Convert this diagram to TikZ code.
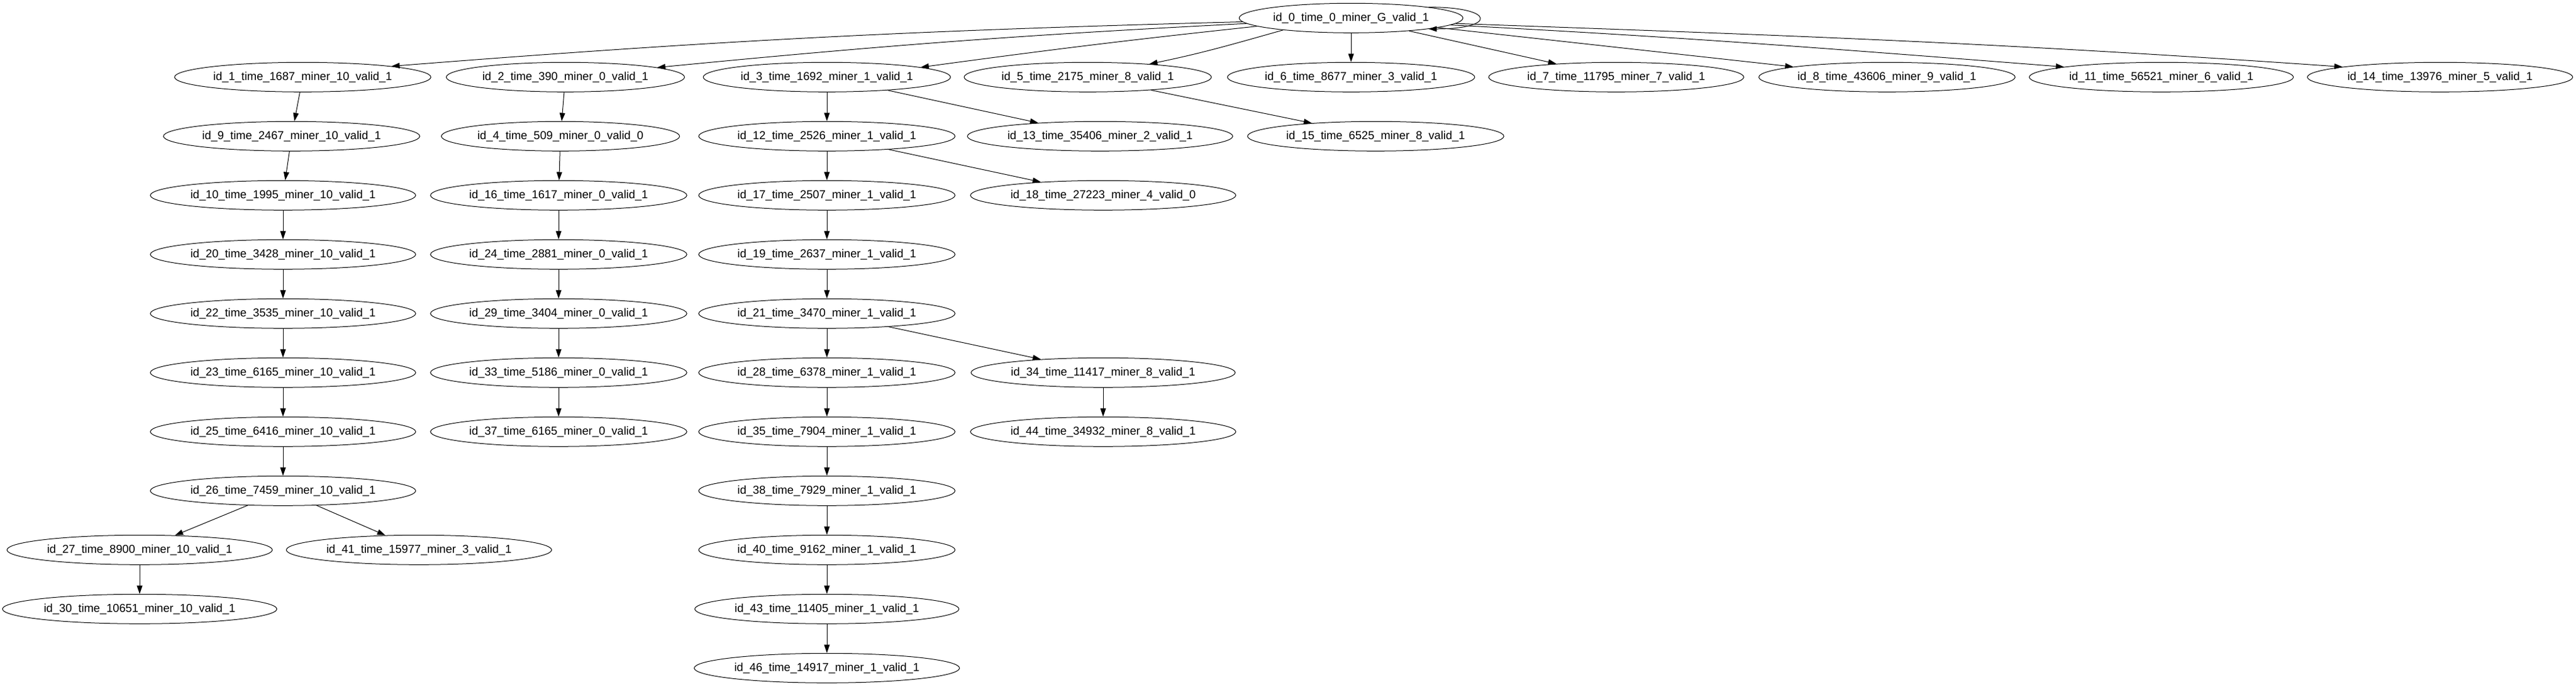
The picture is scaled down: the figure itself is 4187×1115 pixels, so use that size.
\documentclass[tikz,border=0pt]{standalone}
\usepackage{fontspec}
\setmainfont{Liberation Sans}
\usetikzlibrary{shapes.geometric,arrows.meta}

\begin{document}
\begin{tikzpicture}[x=0.75pt,y=-0.75pt,
  blk/.style={draw, ellipse, line width=0.75pt, inner xsep=1.5pt, inner ysep=0pt,
    minimum height=36pt, font=\fontsize{14}{16}\selectfont},
  ed/.style={line width=0.75pt, -{Triangle[length=10pt,width=6.7pt]}}]
\useasboundingbox (0,0) rectangle (4187,1115);
% root
\node[blk] (n0) at (2196,29.3) {id\_0\_time\_0\_miner\_G\_valid\_1};
% rank 1
\node[blk] (n1) at (492,125.3) {id\_1\_time\_1687\_miner\_10\_valid\_1};
\node[blk] (n2) at (919,125.3) {id\_2\_time\_390\_miner\_0\_valid\_1};
\node[blk] (n3) at (1344,125.3) {id\_3\_time\_1692\_miner\_1\_valid\_1};
\node[blk] (n5) at (1768,125.3) {id\_5\_time\_2175\_miner\_8\_valid\_1};
\node[blk] (n6) at (2196,125.3) {id\_6\_time\_8677\_miner\_3\_valid\_1};
\node[blk] (n7) at (2627,125.3) {id\_7\_time\_11795\_miner\_7\_valid\_1};
\node[blk] (n8) at (3067,125.3) {id\_8\_time\_43606\_miner\_9\_valid\_1};
\node[blk] (n11) at (3513,125.3) {id\_11\_time\_56521\_miner\_6\_valid\_1};
\node[blk] (n14) at (3966,125.3) {id\_14\_time\_13976\_miner\_5\_valid\_1};
% rank 2
\node[blk] (n9) at (474,221.3) {id\_9\_time\_2467\_miner\_10\_valid\_1};
\node[blk] (n4) at (911,221.3) {id\_4\_time\_509\_miner\_0\_valid\_0};
\node[blk] (n12) at (1344,221.3) {id\_12\_time\_2526\_miner\_1\_valid\_1};
\node[blk] (n13) at (1788,221.3) {id\_13\_time\_35406\_miner\_2\_valid\_1};
\node[blk] (n15) at (2236,221.3) {id\_15\_time\_6525\_miner\_8\_valid\_1};
% rank 3
\node[blk] (n10) at (460,317.3) {id\_10\_time\_1995\_miner\_10\_valid\_1};
\node[blk] (n16) at (908,317.3) {id\_16\_time\_1617\_miner\_0\_valid\_1};
\node[blk] (n17) at (1344,317.3) {id\_17\_time\_2507\_miner\_1\_valid\_1};
\node[blk] (n18) at (1793,317.3) {id\_18\_time\_27223\_miner\_4\_valid\_0};
% rank 4
\node[blk] (n20) at (460,413.3) {id\_20\_time\_3428\_miner\_10\_valid\_1};
\node[blk] (n24) at (908,413.3) {id\_24\_time\_2881\_miner\_0\_valid\_1};
\node[blk] (n19) at (1344,413.3) {id\_19\_time\_2637\_miner\_1\_valid\_1};
% rank 5
\node[blk] (n22) at (460,509.3) {id\_22\_time\_3535\_miner\_10\_valid\_1};
\node[blk] (n29) at (908,509.3) {id\_29\_time\_3404\_miner\_0\_valid\_1};
\node[blk] (n21) at (1344,509.3) {id\_21\_time\_3470\_miner\_1\_valid\_1};
% rank 6
\node[blk] (n23) at (460,605.3) {id\_23\_time\_6165\_miner\_10\_valid\_1};
\node[blk] (n33) at (908,605.3) {id\_33\_time\_5186\_miner\_0\_valid\_1};
\node[blk] (n28) at (1344,605.3) {id\_28\_time\_6378\_miner\_1\_valid\_1};
\node[blk] (n34) at (1793,605.3) {id\_34\_time\_11417\_miner\_8\_valid\_1};
% rank 7
\node[blk] (n25) at (460,701.3) {id\_25\_time\_6416\_miner\_10\_valid\_1};
\node[blk] (n37) at (908,701.3) {id\_37\_time\_6165\_miner\_0\_valid\_1};
\node[blk] (n35) at (1344,701.3) {id\_35\_time\_7904\_miner\_1\_valid\_1};
\node[blk] (n44) at (1793,701.3) {id\_44\_time\_34932\_miner\_8\_valid\_1};
% rank 8
\node[blk] (n26) at (460,797.3) {id\_26\_time\_7459\_miner\_10\_valid\_1};
\node[blk] (n38) at (1344,797.3) {id\_38\_time\_7929\_miner\_1\_valid\_1};
% rank 9
\node[blk] (n27) at (227,893.3) {id\_27\_time\_8900\_miner\_10\_valid\_1};
\node[blk] (n41) at (681,893.3) {id\_41\_time\_15977\_miner\_3\_valid\_1};
\node[blk] (n40) at (1344,893.3) {id\_40\_time\_9162\_miner\_1\_valid\_1};
% rank 10
\node[blk] (n30) at (227,989.3) {id\_30\_time\_10651\_miner\_10\_valid\_1};
\node[blk] (n43) at (1344,989.3) {id\_43\_time\_11405\_miner\_1\_valid\_1};
% rank 11
\node[blk] (n46) at (1344,1085.3) {id\_46\_time\_14917\_miner\_1\_valid\_1};
%
% edges out of the root
\draw[ed] (n0.8) .. controls +(110,0) and +(110,0) .. (n0.-8);
\draw[ed] (n0.182) .. controls +(-535,14) and +(533,-42) .. (n1.7);
\draw[ed] (n0.183) .. controls +(-372,19) and +(371,-36) .. (n2.6);
\draw[ed] (n0.185) .. controls +(-215,23) and +(214,-29) .. (n3.6);
\draw[ed] (n0.190) .. controls +(-85,24) and +(87,-18) .. (n5.12);
\draw[ed] (n0) -- (n6);
\draw[ed] (n0) -- (n7);
\draw[ed] (n0) -- (n8);
\draw[ed] (n0.-4) .. controls +(385,20) and +(-385,-30) .. (n11.174);
\draw[ed] (n0.-3) .. controls +(561,20) and +(-560,-39) .. (n14.174);
%
\draw[ed] (n1) -- (n9);
\draw[ed] (n9) -- (n10);
\draw[ed] (n10) -- (n20);
\draw[ed] (n20) -- (n22);
\draw[ed] (n22) -- (n23);
\draw[ed] (n23) -- (n25);
\draw[ed] (n25) -- (n26);
\draw[ed] (n26) -- (n27);
\draw[ed] (n26) -- (n41);
\draw[ed] (n27) -- (n30);
%
\draw[ed] (n2) -- (n4);
\draw[ed] (n4) -- (n16);
\draw[ed] (n16) -- (n24);
\draw[ed] (n24) -- (n29);
\draw[ed] (n29) -- (n33);
\draw[ed] (n33) -- (n37);
%
\draw[ed] (n3) -- (n12);
\draw[ed] (n3) -- (n13);
\draw[ed] (n12) -- (n17);
\draw[ed] (n12) -- (n18);
\draw[ed] (n17) -- (n19);
\draw[ed] (n19) -- (n21);
\draw[ed] (n21) -- (n28);
\draw[ed] (n21) -- (n34);
\draw[ed] (n34) -- (n44);
\draw[ed] (n28) -- (n35);
\draw[ed] (n35) -- (n38);
\draw[ed] (n38) -- (n40);
\draw[ed] (n40) -- (n43);
\draw[ed] (n43) -- (n46);
%
\draw[ed] (n5) -- (n15);
\end{tikzpicture}
\end{document}
